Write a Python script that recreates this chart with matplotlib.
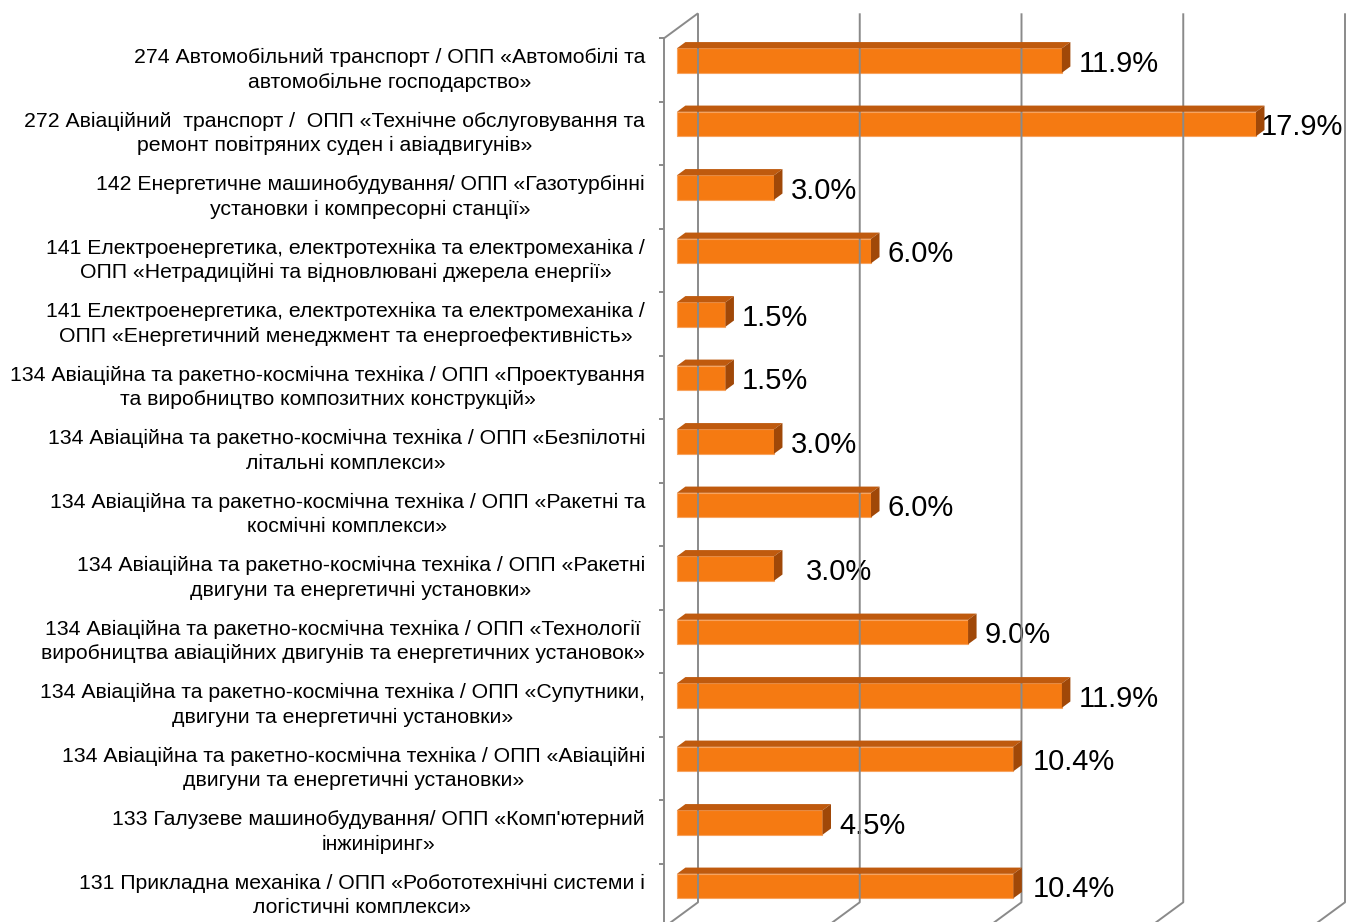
import matplotlib
matplotlib.use("Agg")
import matplotlib.pyplot as plt
from matplotlib.transforms import ScaledTranslation, IdentityTransform
from matplotlib.patches import Polygon
from matplotlib.lines import Line2D
import numpy as np

plt.rcParams['font.family'] = ['Liberation Sans', 'DejaVu Sans']

# ---------------- data (top to bottom) ----------------
categories = [
    "274 Автомобільний транспорт / ОПП «Автомобілі та\nавтомобільне господарство»",
    "272 Авіаційний  транспорт /  ОПП «Технічне обслуговування та\nремонт повітряних суден і авіадвигунів»",
    "142 Енергетичне машинобудування/ ОПП «Газотурбінні\nустановки і компресорні станції»",
    "141 Електроенергетика, електротехніка та електромеханіка /\nОПП «Нетрадиційні та відновлювані джерела енергії»",
    "141 Електроенергетика, електротехніка та електромеханіка /\nОПП «Енергетичний менеджмент та енергоефективність»",
    "134 Авіаційна та ракетно-космічна техніка / ОПП «Проектування\nта виробництво композитних конструкцій»",
    "134 Авіаційна та ракетно-космічна техніка / ОПП «Безпілотні\nлітальні комплекси»",
    "134 Авіаційна та ракетно-космічна техніка / ОПП «Ракетні та\nкосмічні комплекси»",
    "134 Авіаційна та ракетно-космічна техніка / ОПП «Ракетні\nдвигуни та енергетичні установки»",
    "134 Авіаційна та ракетно-космічна техніка / ОПП «Технології\nвиробництва авіаційних двигунів та енергетичних установок»",
    "134 Авіаційна та ракетно-космічна техніка / ОПП «Супутники,\nдвигуни та енергетичні установки»",
    "134 Авіаційна та ракетно-космічна техніка / ОПП «Авіаційні\nдвигуни та енергетичні установки»",
    "133 Галузеве машинобудування/ ОПП «Комп'ютерний\nінжиніринг»",
    "131 Прикладна механіка / ОПП «Робототехнічні системи і\nлогістичні комплекси»",
]
values = [11.9, 17.9, 3.0, 6.0, 1.5, 1.5, 3.0, 6.0, 3.0, 9.0, 11.9, 10.4, 4.5, 10.4]
grid_ticks = [0, 5, 10, 15, 20]

# ---------------- style ----------------
label_nudge_px = [0, -12, 0, 0, 0, 0, 0, 0, 15, 0, 0, 3, 0, 3]
FRONT = "#F57A12"
TOP = "#BF5A0E"
SIDE = "#A04808"
EDGE = "#F8A35E"
GRID = "#8A8A8A"

W, H = 1347, 922
DPI = 100
fig = plt.figure(figsize=(W / DPI, H / DPI), dpi=DPI)

n = len(values)
# axes = front plane of the 3D box, in pixel geometry
x0_px, x1_px = 664, 664 + 20 * 32.35
top_px = 38.3
row_px = 63.5
bot_px = top_px + n * row_px
ax = fig.add_axes([x0_px / W, (H - bot_px) / H, (x1_px - x0_px) / W, (bot_px - top_px) / H])
ax.set_xlim(0, 20)
ax.set_ylim(n - 0.5, -0.5)
ax.axis("off")

DEPTH = np.array([34.0, 25.0])  # pixel offset of back plane (right, up)


def proj(x, y, d):
    p = ax.transData.transform((x, y))
    return (p[0] + DEPTH[0] * d, p[1] + DEPTH[1] * d)


def line(pts, **kw):
    xs = [p[0] for p in pts]
    ys = [p[1] for p in pts]
    fig.add_artist(Line2D(xs, ys, transform=IdentityTransform(), **kw))


gkw = dict(color=GRID, lw=1.4, zorder=1, solid_capstyle="butt")
# back wall gridlines + floor diagonals
for g in grid_ticks:
    line([proj(g, -0.5, 1), proj(g, n - 0.5, 1), proj(g, n - 0.5, 0)], **gkw)
# side wall (front axis) edges
line([proj(0, n - 0.5, 0), proj(0, -0.5, 0), proj(0, -0.5, 1)], **gkw)
# category ticks
for k in range(n + 1):
    a = proj(0, k - 0.5, 0)
    line([(a[0] - 5, a[1]), a], **gkw)

# bars
h = 0.385
d0, d1 = 0.38, 0.63
off0 = ScaledTranslation(DEPTH[0] * d0 / DPI, DEPTH[1] * d0 / DPI, fig.dpi_scale_trans)
ypos = np.arange(n)
ax.barh(ypos, values, height=h, left=0, color=FRONT, edgecolor=EDGE, linewidth=0.8,
        transform=ax.transData + off0, zorder=5, clip_on=False)
for i, v in enumerate(values):
    yt = i - h / 2
    yb = i + h / 2
    top = [proj(0, yt, d0), proj(v, yt, d0), proj(v, yt, d1), proj(0, yt, d1)]
    side = [proj(v, yt, d0), proj(v, yb, d0), proj(v, yb, d1), proj(v, yt, d1)]
    fig.add_artist(Polygon(top, closed=True, facecolor=TOP, edgecolor="none",
                           transform=IdentityTransform(), zorder=4))
    fig.add_artist(Polygon(side, closed=True, facecolor=SIDE, edgecolor="none",
                           transform=IdentityTransform(), zorder=4))

# value labels
for i, v in enumerate(values):
    dx = (DEPTH[0] * d1 + 8 + label_nudge_px[i]) / DPI
    dy = (DEPTH[1] * d0) / DPI
    tr = ax.transData + ScaledTranslation(dx, dy, fig.dpi_scale_trans)
    ax.text(v, i, f"{v:.1f}%", ha="left", va="center_baseline", fontsize=21,
            color="black", transform=tr, zorder=6, clip_on=False)

# category labels
trl = ax.transData + ScaledTranslation(-19 / DPI, 0, fig.dpi_scale_trans)
for i, c in enumerate(categories):
    ax.text(0, i, c, ha="right", va="center", multialignment="center",
            fontsize=15.3, linespacing=1.36, color="black", transform=trl, clip_on=False)

fig.savefig("out.png", dpi=DPI, facecolor="white")
